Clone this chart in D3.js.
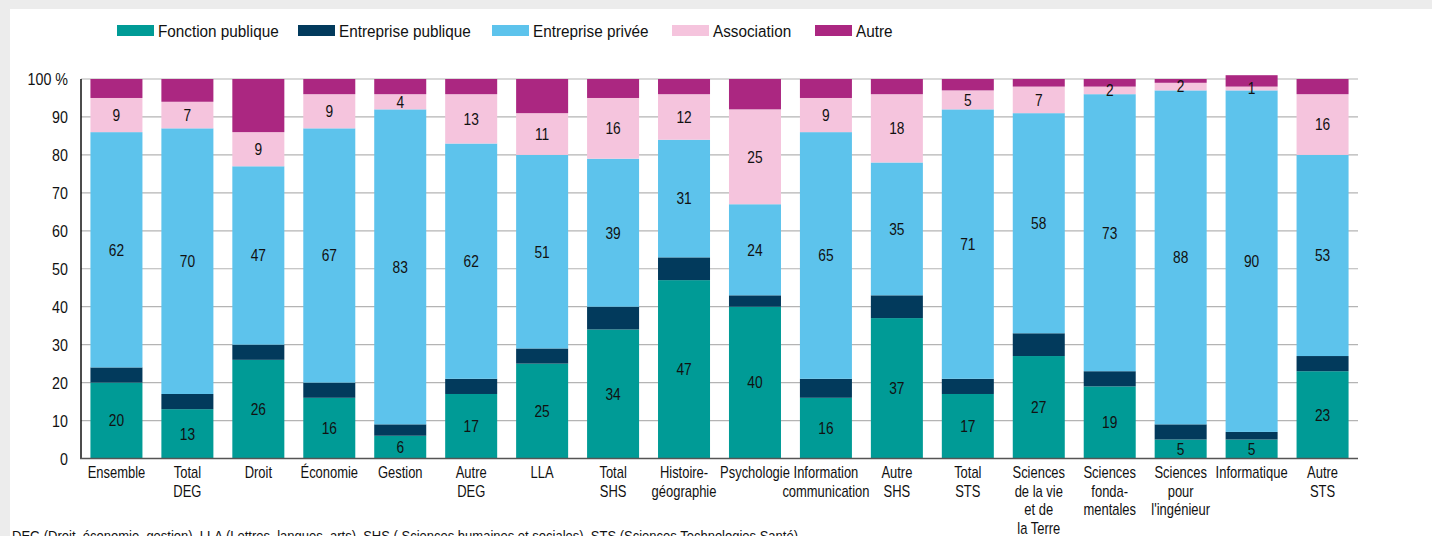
<!DOCTYPE html>
<html>
<head>
<meta charset="utf-8">
<script src="https://cdn.jsdelivr.net/npm/d3@7"></script>
<style>
  html, body { margin: 0; padding: 0; background: #ececec; }
  svg { display: block; }
  text { font-family: "Liberation Sans", Arial, sans-serif; fill: #111; }
</style>
</head>
<body>
<svg width="1432" height="536"></svg>
<script>
// categories (lines of the x labels split with |)
var categories = ["Ensemble", "Total|DEG", "Droit", "Économie", "Gestion", "Autre|DEG", "LLA",
  "Total|SHS", "Histoire-|géographie", "Psychologie", "Information|communication", "Autre|SHS",
  "Total|STS", "Sciences|de la vie|et de|la Terre", "Sciences|fonda-|mentales", "Sciences|pour|l'ingénieur",
  "Informatique", "Autre|STS"];

var seriesNames = ["Fonction publique", "Entreprise publique", "Entreprise privée", "Association", "Autre"];
var seriesColors = ["#009b96", "#023a5c", "#5dc3ec", "#f5c4dd", "#ab2781"];
var showLabel = [true, false, true, true, false];

var fonctionPublique   = [20, 13, 26, 16, 6, 17, 25, 34, 47, 40, 16, 37, 17, 27, 19, 5, 5, 23];
var entreprisePublique = [4, 4, 4, 4, 3, 4, 4, 6, 6, 3, 5, 6, 4, 6, 4, 4, 2, 4];
var entreprisePrivee   = [62, 70, 47, 67, 83, 62, 51, 39, 31, 24, 65, 35, 71, 58, 73, 88, 90, 53];
var association        = [9, 7, 9, 9, 4, 13, 11, 16, 12, 25, 9, 18, 5, 7, 2, 2, 1, 16];
var autre              = [5, 6, 14, 4, 4, 4, 9, 5, 4, 8, 5, 4, 3, 2, 2, 1, 3, 4];

var yTicks = [0, 10, 20, 30, 40, 50, 60, 70, 80, 90, 100];
var footnote = "DEG (Droit, économie, gestion), LLA (Lettres, langues, arts), SHS ( Sciences humaines et sociales), STS (Sciences Technologies Santé).";

var allSeries = [fonctionPublique, entreprisePublique, entreprisePrivee, association, autre];

var svg = d3.select("svg");

// texte "étroit" : police normale compressée horizontalement
function narrow(sel, px, py, sx) {
  sel.attr("transform", function(d, i){
    var a = typeof px === "function" ? px(d, i) : px;
    var b = typeof py === "function" ? py(d, i) : py;
    return "translate(" + a + "," + b + ") scale(" + sx + ",1)";
  });
}

// fond blanc
svg.append("rect").attr("x", 10).attr("y", 9).attr("width", 1422).attr("height", 527).attr("fill", "#fff");

var x = d3.scaleBand().domain(d3.range(categories.length)).range([81, 1358]).paddingInner(0.267).paddingOuter(0.133);
var y = d3.scaleLinear().domain([0, 100]).range([458.5, 79]);

// grille
svg.append("g").selectAll("line").data(yTicks.slice(1)).enter().append("line")
  .attr("x1", 81).attr("x2", 1358)
  .attr("y1", function(d){return y(d);}).attr("y2", function(d){return y(d);})
  .attr("stroke", "#b4b4b4").attr("stroke-width", 1.2);

// axe Y (textes)
var yAxis = d3.axisLeft(y).tickValues(yTicks).tickSize(0).tickPadding(13)
  .tickFormat(function(d){return d === 100 ? "100 %" : d;});
var gy = svg.append("g").attr("transform", "translate(81,0)").call(yAxis);
gy.select(".domain").remove();
gy.selectAll(".tick text").attr("x", null).attr("dy", null)
  .attr("dominant-baseline", "central")
  .style("font-size", "17px").attr("fill", "#111");
narrow(gy.selectAll(".tick text"), -13, 0, 0.84);

// barres empilées
var rows = categories.map(function(c, i){
  var r = {i: i};
  seriesNames.forEach(function(s, k){ r[s] = allSeries[k][i]; });
  return r;
});
var stacked = d3.stack().keys(seriesNames)(rows);

var layers = svg.append("g").selectAll("g").data(stacked).enter().append("g")
  .attr("fill", function(d, k){return seriesColors[k];});

layers.selectAll("rect").data(function(d){return d;}).enter().append("rect")
  .attr("x", function(d){return x(d.data.i);})
  .attr("width", x.bandwidth())
  .attr("y", function(d){return y(d[1]);})
  .attr("height", function(d){return y(d[0]) - y(d[1]);});

// étiquettes
stacked.forEach(function(layer, k){
  if (!showLabel[k]) return;
  var t = svg.append("g").selectAll("text").data(layer).enter().append("text")
    .attr("dominant-baseline", "central")
    .attr("text-anchor", "middle")
    .style("font-size", "16px")
    .text(function(d){return d[1] - d[0];});
  narrow(t, function(d){return x(d.data.i) + x.bandwidth()/2;},
            function(d){return y((d[0] + d[1]) / 2);}, 0.86);
});

// axes
svg.append("line").attr("x1", 81).attr("x2", 81).attr("y1", 79).attr("y2", 459)
  .attr("stroke", "#111").attr("stroke-width", 1.5);
svg.append("line").attr("x1", 80).attr("x2", 1358).attr("y1", 458.5).attr("y2", 458.5)
  .attr("stroke", "#555").attr("stroke-width", 1.5);

// libellés X
var xl = svg.append("g").selectAll("text").data(categories).enter().append("text")
  .attr("text-anchor", "middle")
  .style("font-size", "16px");
narrow(xl, function(d, i){return x(i) + x.bandwidth()/2;}, 478, 0.81);
xl.selectAll("tspan").data(function(d){return d.split("|");}).enter().append("tspan")
  .attr("x", 0)
  .attr("dy", function(d, j){return j === 0 ? 0 : 18.7;})
  .text(function(d){return d;});

// légende
var legendX = [158, 339, 533, 713, 856];
var lg = svg.append("g").selectAll("g").data(seriesNames).enter().append("g")
  .attr("transform", function(d, k){return "translate(" + legendX[k] + ",25)";});
lg.append("rect").attr("x", -41).attr("width", 37).attr("height", 11)
  .attr("fill", function(d, k){return seriesColors[k];});
var lt = lg.append("text").attr("dominant-baseline", "central")
  .style("font-size", "17px").text(function(d){return d;});
narrow(lt, 0, 5.5, 0.9);

// note
var fn = svg.append("text").style("font-size", "14px").text(footnote);
narrow(fn, 12, 541, 0.93);
</script>
</body>
</html>
